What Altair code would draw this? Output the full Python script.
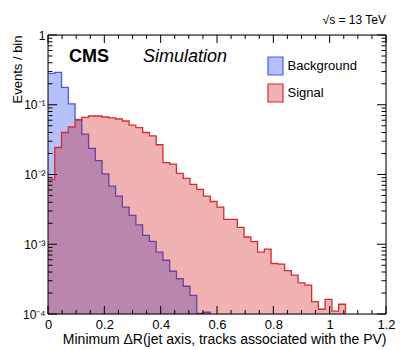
import altair as alt
import pandas as pd

# ---- data ----
BIN_WIDTH = 0.024
Y_MIN, Y_MAX = 1e-4, 1.0
X_MIN, X_MAX = 0.0, 1.2

series_names = ["Background", "Signal"]

background = [0.282, 0.292, 0.178, 0.103, 0.0618, 0.038, 0.0237, 0.0158, 0.0102, 0.0068,
              0.0049, 0.0034, 0.0026, 0.0019, 0.00134, 0.0011, 0.00077, 0.00059, 0.00041, 0.00032,
              0.00025, 0.000185, 0.000102, 0.000106]

signal = [0.0085, 0.0244, 0.040, 0.048, 0.0604, 0.066, 0.069, 0.069, 0.0667, 0.065,
          0.0625, 0.0585, 0.051, 0.047, 0.040, 0.0358, 0.0267, 0.0148, 0.0141, 0.0104,
          0.0088, 0.0072, 0.0061, 0.0049, 0.0041, 0.0034, 0.00228, 0.00228, 0.00175, 0.00127,
          0.00109, 0.00077, 0.00085, 0.00053, 0.00052, 0.00042, 0.00036, 0.00028, 0.00026, 0.00015,
          0.000117, 0.000162, 0.00011, 0.000138]

x_major = [0, 0.2, 0.4, 0.6, 0.8, 1.0, 1.2]
x_minor = [round(0.05 * i, 2) for i in range(25) if i % 4]
y_major = [1e-4, 1e-3, 1e-2, 1e-1, 1.0]
y_minor = [k * 10.0 ** e for e in range(-4, 0) for k in range(2, 10)]

fill_colors = ["#b4c1fa", "rgba(204,0,0,0.3)"]
line_colors = ["#3f5fe8", "#d92b2b"]

FONT = "Liberation Sans"
W, H = 338, 279


def steps(name, vals):
    rows = [{"series": name, "x": i * BIN_WIDTH, "v": v} for i, v in enumerate(vals)]
    rows.append({"series": name, "x": len(vals) * BIN_WIDTH, "v": Y_MIN})
    return pd.DataFrame(rows)


df_bg = steps("Background", background)
df_sig = steps("Signal", signal)

legend = alt.Legend(
    title=None, orient="none", legendX=217.5, legendY=21, padding=0,
    labelFont=FONT, labelFontSize=13, labelColor="black", labelOffset=2,
    symbolType="M-0.83,-1H0.83V1H-0.83Z", symbolSize=324, symbolStrokeWidth=1.2,
    rowPadding=3,
)

x_axis = alt.Axis(
    values=x_major, labelExpr="format(datum.value, '~g')", ticks=False, domain=False, grid=False,
    labelFont=FONT, labelFontSize=13, labelColor="black", labelPadding=4, labelFlush=False,
    labelOverlap=False,
    title="Minimum ΔR(jet axis, tracks associated with the PV)", titleFont=FONT, titleFontSize=14,
    titleFontWeight="normal", titleColor="black", titleX=W, titleY=29, titleAlign="right",
    titleBaseline="alphabetic", titleAngle=0,
)
y_axis = alt.Axis(
    values=y_major,
    labelExpr="datum.value > 0.5 ? '1' : datum.value > 0.05 ? '10⁻¹' : datum.value > 0.005 ? '10⁻²' : datum.value > 0.0005 ? '10⁻³' : '10⁻⁴'",
    ticks=False, domain=False, grid=False, labelFont=FONT, labelFontSize=12, labelColor="black",
    labelPadding=3, labelFlush=False, labelOverlap=False,
    title="Events / bin", titleFont=FONT, titleFontSize=13, titleFontWeight="normal",
    titleColor="black", titleX=-31, titleY=0, titleAlign="right", titleAngle=-90,
    titleBaseline="middle",
)

xs = alt.Scale(domain=[X_MIN, X_MAX], nice=False, zero=False)
ys = alt.Scale(type="log", domain=[Y_MIN, Y_MAX], nice=False)
fill_scale = alt.Scale(domain=series_names, range=fill_colors)
stroke_scale = alt.Scale(domain=series_names, range=line_colors)


def area(df):
    return alt.Chart(df).mark_area(interpolate="step-after", clip=True).encode(
        x=alt.X("x:Q", scale=xs, axis=x_axis),
        y=alt.Y("v:Q", scale=ys, axis=y_axis),
        y2=alt.datum(Y_MIN),
        fill=alt.Fill("series:N", scale=fill_scale, legend=legend),
    )


def line(df):
    return alt.Chart(df).mark_line(interpolate="step-after", clip=True, strokeWidth=1.3).encode(
        x=alt.X("x:Q", scale=xs),
        y=alt.Y("v:Q", scale=ys),
        stroke=alt.Stroke("series:N", scale=stroke_scale, legend=legend),
    )


def xticks(vals, y0, y1):
    return alt.Chart(pd.DataFrame({"t": vals})).mark_rule(color="black", strokeWidth=1).encode(
        x=alt.X("t:Q", scale=xs), y=alt.value(y0), y2=alt.value(y1))


def yticks(vals, x0, x1):
    return alt.Chart(pd.DataFrame({"t": vals})).mark_rule(color="black", strokeWidth=1).encode(
        y=alt.Y("t:Q", scale=ys), x=alt.value(x0), x2=alt.value(x1))


one = pd.DataFrame({"a": [0]})
frame = [
    alt.Chart(one).mark_rule(color="black", strokeWidth=1).encode(x=alt.value(0), x2=alt.value(W), y=alt.value(0)),
    alt.Chart(one).mark_rule(color="black", strokeWidth=1).encode(x=alt.value(0), x2=alt.value(W), y=alt.value(H)),
    alt.Chart(one).mark_rule(color="black", strokeWidth=1).encode(y=alt.value(0), y2=alt.value(H), x=alt.value(0)),
    alt.Chart(one).mark_rule(color="black", strokeWidth=1).encode(y=alt.value(0), y2=alt.value(H), x=alt.value(W)),
]

ticks = [
    xticks(x_major, H, H - 8), xticks(x_minor, H, H - 4),
    xticks(x_major, 0, 8), xticks(x_minor, 0, 4),
    yticks(y_major, 0, 9), yticks(y_minor, 0, 4.5),
    yticks(y_major, W, W - 9), yticks(y_minor, W, W - 4.5),
]


def label(text, x, y, size, align="left", weight="normal", style="normal"):
    return alt.Chart(pd.DataFrame({"t": [text]})).mark_text(
        font=FONT, fontSize=size, fontWeight=weight, fontStyle=style, align=align,
        baseline="alphabetic", color="black",
    ).encode(text="t:N", x=alt.value(x), y=alt.value(y))


texts = [
    label("CMS", 21, 27, 18, weight="bold"),
    label("Simulation", 95, 27, 18, style="italic"),
    label("√s = 13 TeV", W, -11, 12, align="right"),
]

chart = alt.layer(
    area(df_bg), line(df_bg), area(df_sig), line(df_sig), *ticks, *frame, *texts
).properties(
    width=W, height=H,
    autosize=alt.AutoSizeParams(type="none"),
    padding={"left": 40, "top": 27, "right": 13, "bottom": 34},
).configure_view(stroke=None).configure(background="white")

chart.save("out.html", embed_options={"renderer": "svg", "actions": False})
